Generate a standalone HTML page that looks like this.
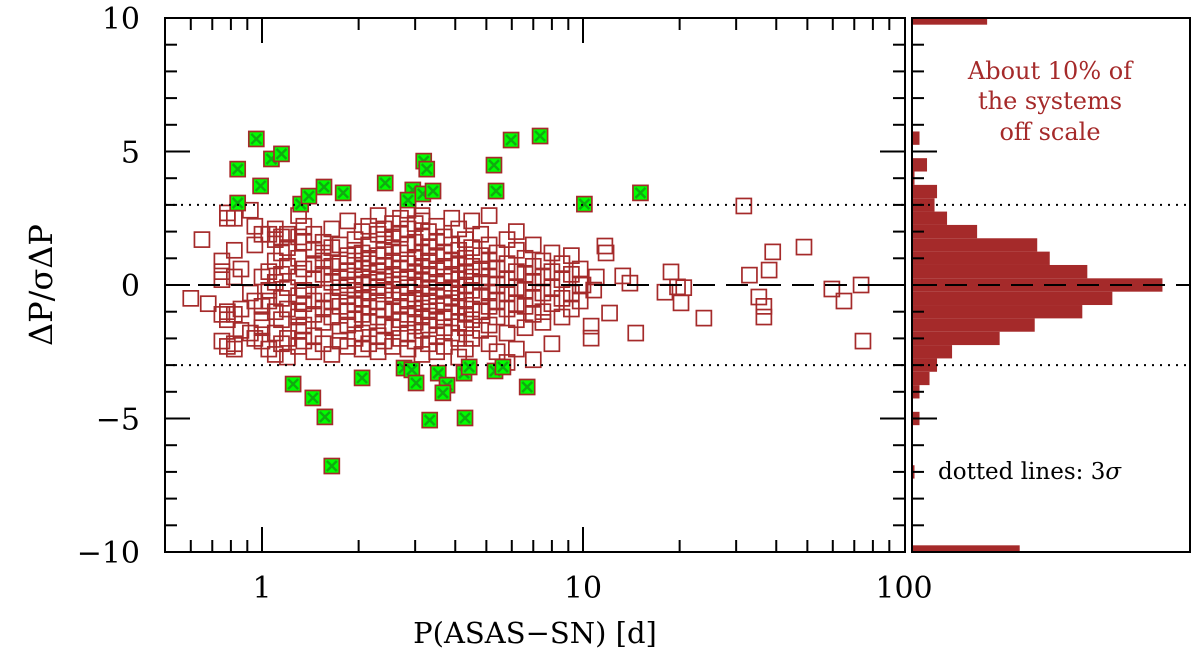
<!DOCTYPE html>
<html><head><meta charset="utf-8"><style>
html,body{margin:0;padding:0;background:#fff;}
svg text{font-family:"DejaVu Serif","Liberation Serif",serif;}
</style></head><body>
<svg id="chart" width="1200" height="664" viewBox="0 0 1200 664" xmlns="http://www.w3.org/2000/svg">
<g id="hist"></g>
<g id="main"></g>
<g id="axes"></g>
<text transform="translate(52,285) rotate(-90)" text-anchor="middle" font-size="32">ΔP/σΔP</text>
<text x="535" y="643" text-anchor="middle" font-size="29">P(ASAS−SN) [d]</text>
<text x="1050" y="79" text-anchor="middle" font-size="24" fill="#a52a2a">About 10% of</text>
<text x="1050" y="109" text-anchor="middle" font-size="24" fill="#a52a2a">the systems</text>
<text x="1050" y="140" text-anchor="middle" font-size="24" fill="#a52a2a">off scale</text>
<text x="938" y="479" font-size="23">dotted lines: 3<tspan font-style="italic">σ</tspan></text>
</svg>
<script>
// scatter data (period in days, deviation in sigma)
const redP = [0.6,0.65,0.68,
0.75,0.75,0.75,0.75,0.75, 0.78,0.78,0.78,0.78,0.78, 0.82,0.82,0.82,0.82,0.82,0.82, 0.86,0.86,0.86, 0.92,0.92,0.92, 0.95,0.95,0.95,0.95,
1.0,1.0,1.0,1.0,1.0,1.0, 1.05,1.05,1.05,1.05,1.05, 1.1,1.1,1.1,1.1,1.1,1.1,1.1, 1.15,1.15,1.15,1.15,1.15,1.15, 1.2,1.2,1.2,1.2,1.2,1.2,1.2,
1.3,1.3,1.3,1.3,1.3,1.3,1.3,1.3,1.3, 1.35,1.35,1.35,1.35,1.35,1.35,1.35, 1.45,1.45,1.45,1.45,1.45,1.45,1.45,1.45, 1.55,1.55,1.55,1.55,1.55,1.55,1.55,1.55,
1.65,1.65,1.65,1.65,1.65,1.65,1.65, 1.75,1.75,1.75,1.75,1.75,1.75,1.75, 1.85,1.85,1.85,1.85,1.85,1.85,1.85,1.85, 1.95,1.95,1.95,1.95,1.95,1.95,1.95,1.95,
2.05,2.05,2.05,2.05,2.05,2.05,2.05,2.05,2.05, 2.15,2.15,2.15,2.15,2.15,2.15,2.15,2.15,2.15, 2.3,2.3,2.3,2.3,2.3,2.3,2.3,2.3,2.3,2.3, 2.4,2.4,2.4,2.4,2.4,2.4,2.4,2.4,2.4,
2.55,2.55,2.55,2.55,2.55,2.55,2.55,2.55,2.55,2.55, 2.7,2.7,2.7,2.7,2.7,2.7,2.7,2.7,2.7, 2.85,2.85,2.85,2.85,2.85,2.85,2.85,2.85,2.85,2.85, 3.0,3.0,3.0,3.0,3.0,3.0,3.0,3.0,3.0,
3.15,3.15,3.15,3.15,3.15,3.15,3.15,3.15,3.15,3.15,3.15, 3.3,3.3,3.3,3.3,3.3,3.3,3.3,3.3,3.3, 3.5,3.5,3.5,3.5,3.5,3.5,3.5,3.5,3.5,3.5, 3.7,3.7,3.7,3.7,3.7,3.7,3.7,3.7,3.7,
3.9,3.9,3.9,3.9,3.9,3.9,3.9,3.9, 4.1,4.1,4.1,4.1,4.1,4.1,4.1,4.1,4.1, 4.3,4.3,4.3,4.3,4.3,4.3,4.3,4.3, 4.5,4.5,4.5,4.5,4.5,4.5,4.5,4.5,
4.8,4.8,4.8,4.8,4.8,4.8,4.8, 5.1,5.1,5.1,5.1,5.1,5.1,5.1,5.1, 5.4,5.4,5.4,5.4,5.4,5.4, 5.8,5.8,5.8,5.8,5.8,5.8,5.8, 6.2,6.2,6.2,6.2,6.2,6.2,6.2,
6.6,6.6,6.6,6.6,6.6, 7.0,7.0,7.0,7.0,7.0,7.0, 7.5,7.5,7.5,7.5,7.5, 8.0,8.0,8.0,8.0,8.0, 8.6,8.6,8.6,8.6, 9.2,9.2,9.2,9.2, 9.8,9.8,9.8,
10.0,10.6,10.6,10.8,11.0,11.7,11.8,12.1,13.3,14.0,14.6,18.0,18.8,19.7,20.2,20.6,23.8,31.7,33.0,35.3,36.6,36.6,38.0,39.0,48.8,59.6,65.0,73.5,74.5];
const redDy = [-0.5,1.7,-0.7,
0.5,0.2,0.9,-1.1,-2.1, 2.5,2.7,-1.3,-2.3,-1.0, 1.3,0.3,-1.1,-2.2,-2.4,2.5, 0.6,-0.9,-1.7, 2.8,-0.3,-1.8, 2.2,1.5,-2.0,-0.6,
0.3,-0.8,-1.3,-2.1,1.9,-1.6, 1.9,-0.2,0.5,-2.4,-0.6, 1.7,0.9,0.1,-1.0,-1.8,-2.6,2.1, 1.8,1.2,-0.5,-1.3,-2.2,0.4, 1.9,1.4,-0.1,-0.9,-2.0,-2.7,0.7,
2.6,1.8,1.0,0.3,-0.4,-1.2,-1.7,-2.3,-1.0, 1.6,0.6,-0.2,-0.7,-1.5,-2.1,2.2, 1.9,1.3,0.2,-0.6,-1.1,-1.9,-2.5,0.8, 1.6,0.9,0.4,-0.3,-0.9,-1.4,-2.2,1.2,
2.1,0.1,-0.6,-1.2,-2.6,0.7,1.4, 1.5,0.8,-0.1,-0.8,-1.7,-2.1,0.3, 2.4,1.1,0.5,-0.4,-1.0,-1.5,-2.3,0.0, 1.7,0.9,0.2,-0.2,-0.7,-1.3,-2.0,1.3,
2.0,1.2,0.6,0.0,-0.5,-1.1,-1.8,-2.4,0.3, 2.2,1.5,0.8,0.1,-0.3,-0.8,-1.4,-2.2,1.0, 2.6,1.9,1.1,0.5,-0.1,-0.6,-1.2,-1.9,-2.5,0.2, 1.7,1.3,0.7,0.3,-0.2,-0.9,-1.5,-2.1,2.1,
2.3,1.4,0.9,0.4,0.0,-0.4,-1.0,-1.6,-2.3,1.8, 1.9,1.2,0.6,0.2,-0.3,-0.8,-1.3,-2.0,2.5, 2.8,2.1,1.5,0.8,0.3,-0.1,-0.6,-1.1,-1.8,-2.4, 1.6,1.0,0.5,0.0,-0.5,-0.9,-1.4,-2.1,2.3,
2.6,2.4,1.8,1.2,0.7,0.2,-0.3,-0.7,-1.2,-1.7,-2.6, 2.0,1.4,0.9,0.4,-0.1,-0.6,-1.0,-1.5,-2.2, 2.2,1.6,1.1,0.6,0.1,-0.4,-0.8,-1.3,-1.9,-2.5, 1.8,1.2,0.7,0.3,-0.2,-0.7,-1.2,-1.6,-2.3,
2.5,1.5,0.9,0.4,-0.1,-0.5,-1.0,-1.8, 2.1,1.3,0.8,0.2,-0.3,-0.8,-1.4,-2.0,-2.7, 1.7,1.0,0.5,0.0,-0.6,-1.1,-1.6,-2.4, 2.4,1.4,0.7,0.3,-0.2,-0.9,-1.3,-2.0,
1.9,1.1,0.6,0.1,-0.4,-1.0,-1.7, 2.6,1.5,0.9,0.3,-0.3,-0.8,-1.5,-2.2, 1.2,0.6,0.0,-0.6,-1.2,-2.5, 1.7,0.8,0.2,-0.3,-0.9,-1.8,-2.9, 2.0,1.3,0.5,-0.1,-0.7,-1.3,-2.4,
1.0,0.4,-0.2,-0.8,-1.6, 1.5,0.7,0.1,-0.5,-1.1,-2.8, 0.9,0.3,-0.3,-1.0,-1.4, 1.2,0.5,-0.1,-0.7,-2.2, 0.8,0.2,-0.5,-1.2, 1.1,0.4,-0.3,-0.9, 0.6,0.0,-0.6,
0.0,-1.54,-1.99,-0.19,0.3,1.46,1.2,-1.05,0.34,0.07,-1.8,-0.27,0.49,-0.07,-0.67,-0.1,-1.24,2.96,0.37,-0.45,-0.8,-1.2,0.56,1.24,1.42,-0.15,-0.6,0.0,-2.1];
const flagP = [0.96,0.84,1.07,1.15,0.99,0.84,1.32,1.40,1.56,1.79,2.42,3.19,3.26,2.95,2.85,3.17,3.41,5.28,5.97,7.35,5.36,10.1,15.1,
1.25,1.44,1.57,2.05,2.77,2.93,3.02,3.54,3.77,3.66,3.33,4.29,4.26,4.42,5.32,5.63,6.7,1.65];
const flagDy = [5.47,4.34,4.72,4.91,3.71,3.07,3.03,3.33,3.67,3.45,3.82,4.64,4.34,3.56,3.18,3.41,3.52,4.49,5.43,5.58,3.52,3.03,3.45,
-3.71,-4.23,-4.94,-3.48,-3.11,-3.18,-3.67,-3.30,-3.75,-4.04,-5.06,-4.98,-3.30,-3.07,-3.22,-3.07,-3.82,-6.78];
// histogram data (bin centre, counts)
const histBins = [10,5.5,4.5,4.0,3.5,3.0,2.5,2.0,1.5,1.0,0.5,0,-0.5,-1,-1.5,-2,-2.5,-3,-3.5,-4,-5,-7,-10];
const histCounts = [30,3,6,1,10,9,14,26,50,55,70,100,80,68,49,35,16,10,7,3,3,1,43];
const yTicks = [10,5,0,-5,-10];
const yTickLabels = ["10","5","0","\u22125","\u221210"];
const xTicks = [1,10,100];
const xTickLabels = ["1","10","100"];

const NS="http://www.w3.org/2000/svg";
const L=165,R=905,T=18,B=552,HL=912,HR=1190;
const RED="#a52a2a";
function sx(p){return 262+321*Math.log10(p);}
function sy(v){return 285-v*26.7;}
function hx(c){return HL+c*(HR-HL)/111;}
function mk(parent,tag,attrs){const e=document.createElementNS(NS,tag);for(const k in attrs)e.setAttribute(k,attrs[k]);parent.appendChild(e);return e;}
const main=document.getElementById('main'),hist=document.getElementById('hist'),axes=document.getElementById('axes');

histBins.forEach((b,i)=>{
  let y0=sy(b+0.25),y1=sy(b-0.25);
  y0=Math.max(y0,T);y1=Math.min(y1,B);
  const r=mk(hist,'rect',{x:HL,y:y0,width:hx(histCounts[i])-HL,height:y1-y0,fill:RED});
  
  
});

[[L,R],[HL,HR]].forEach(([a,b])=>{
  const d=mk(axes,'line',{x1:a,x2:b,y1:sy(0),y2:sy(0),stroke:'#000','stroke-width':2,'stroke-dasharray':'22,11'});
  
  
  [3,-3].forEach(v=>{
    const o=mk(axes,'line',{x1:a,x2:b,y1:sy(v),y2:sy(v),stroke:'#000','stroke-width':2,'stroke-dasharray':'2,6'});
    
    
  });
});

redP.forEach((p,i)=>{
  const r=mk(main,'rect',{x:sx(p)-7.5,y:sy(redDy[i])-7.5,width:15,height:15,fill:'none',stroke:RED,'stroke-width':1.7});
  
  
});
flagP.forEach((p,i)=>{
  const x=sx(p),y=sy(flagDy[i]);
  const g=mk(main,'g',{});
  
  
  mk(g,'rect',{x:x-7.5,y:y-7.5,width:15,height:15,fill:'#00ff00',stroke:RED,'stroke-width':1.7});
  mk(g,'path',{d:`M${x-5},${y-5}L${x+5},${y+5}M${x+5},${y-5}L${x-5},${y+5}`,stroke:'#11aa11','stroke-width':2.4});
});

[[L,R],[HL,HR]].forEach(([a,b],k)=>{
  const f=mk(axes,'rect',{x:a,y:T,width:b-a,height:B-T,fill:'none',stroke:'#000','stroke-width':2});
  
  
});
for(let v=-9;v<=9;v++){
  const len=(v%5===0)?25:12;
  mk(axes,'line',{x1:L,x2:L+len,y1:sy(v),y2:sy(v),stroke:'#000','stroke-width':2});
  mk(axes,'line',{x1:R,x2:R-len,y1:sy(v),y2:sy(v),stroke:'#000','stroke-width':2});
  mk(axes,'line',{x1:HL,x2:HL+len,y1:sy(v),y2:sy(v),stroke:'#000','stroke-width':2});
}
yTicks.forEach((v,i)=>{
  const t=mk(axes,'text',{x:140,y:sy(v)+11,'text-anchor':'end','font-size':30});
  t.textContent=yTickLabels[i];
  
  
});
for(let d=0.1;d<=10;d*=10){
  for(let m=1;m<=9;m++){
    const val=m*d; if(val<0.55||val>100)continue;
    const len=(m===1)?25:12;
    mk(axes,'line',{x1:sx(val),x2:sx(val),y1:B,y2:B-len,stroke:'#000','stroke-width':2});
    mk(axes,'line',{x1:sx(val),x2:sx(val),y1:T,y2:T+len,stroke:'#000','stroke-width':2});
  }
}
xTicks.forEach((v,i)=>{
  const t=mk(axes,'text',{x:sx(v),y:598,'text-anchor':'middle','font-size':30});
  t.textContent=xTickLabels[i];
  
  
});
</script>
</body></html>
